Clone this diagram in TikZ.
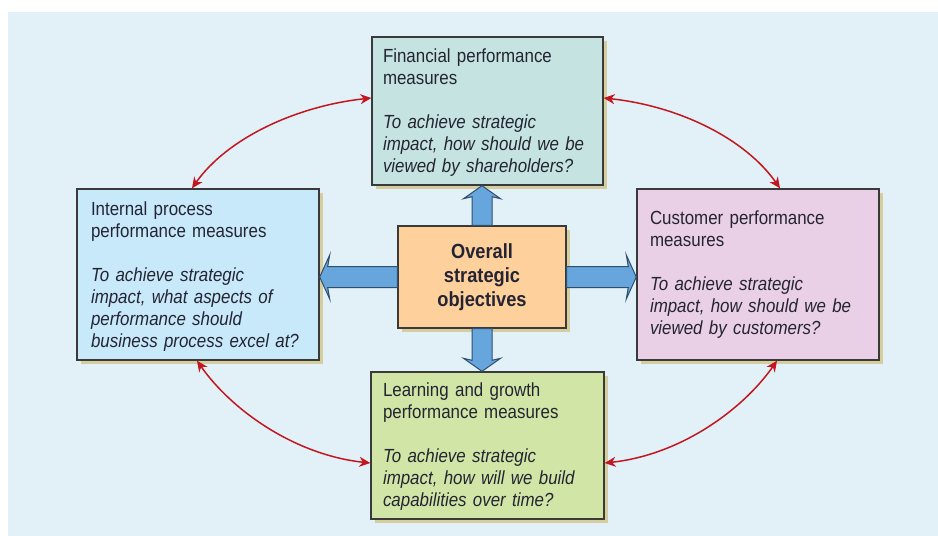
\documentclass[tikz,border=0pt]{standalone}
\usepackage{fontspec}
\setmainfont{Liberation Sans}[FakeStretch=0.89]
\usetikzlibrary{arrows.meta,shadows,calc}
\definecolor{bgblue}{HTML}{E2F0F7}
\definecolor{finfill}{HTML}{C5E4E1}
\definecolor{intfill}{HTML}{C8E9FA}
\definecolor{cusfill}{HTML}{E9D0E6}
\definecolor{leafill}{HTML}{D1E6A6}
\definecolor{ctrfill}{HTML}{FDD09C}
\definecolor{shadowtan}{HTML}{D5CD9E}
\definecolor{boxline}{HTML}{3A3A3A}
\definecolor{arrfill}{HTML}{67A6DD}
\definecolor{arrline}{HTML}{2F4F6F}
\definecolor{redline}{HTML}{C3161F}
\definecolor{txt}{HTML}{242432}
\begin{document}
\begin{tikzpicture}[x=1pt,y=-1pt,
  boxbase/.style={draw=boxline, line width=1.4pt, text=txt,
    drop shadow={shadow xshift=4pt, shadow yshift=-4pt, fill=shadowtan, opacity=1}},
  textbox/.style={boxbase, align=left, inner ysep=0pt,
    font=\fontsize{19pt}{22pt}\selectfont},
  centerbox/.style={boxbase, align=center, inner sep=0pt,
    font=\bfseries\fontsize{20.5pt}{24pt}\selectfont},
  blockarr/.style={fill=arrfill, draw=arrline, line width=1pt, line join=miter},
  redarr/.style={draw=redline, line width=1.5pt,
    {Stealth[length=11pt,width=10pt]}-{Stealth[length=11pt,width=10pt]}}
]
\useasboundingbox (0,0) rectangle (938,536);
\fill[bgblue] (8,12) rectangle (938,536);

% boxes
\node[textbox, fill=finfill, text width=209pt, inner xsep=11pt, minimum height=148pt] (fin) at (487.5,111)
  {\rule{0pt}{17pt}Financial performance\\measures\\[22pt]\textit{To achieve strategic\\impact, how should we be\\viewed by shareholders?}};
\node[textbox, fill=intfill, text width=214pt, inner xsep=14pt, minimum height=171pt] (int) at (198,274.5)
  {\rule{0pt}{17pt}Internal process\\performance measures\\[22pt]\textit{To achieve strategic\\impact, what aspects of\\performance should\\business process excel at?}};
\node[textbox, fill=cusfill, text width=216pt, inner xsep=13pt, minimum height=171pt] (cus) at (758,274.5)
  {Customer performance\\measures\\[22pt]\textit{To achieve strategic\\impact, how should we be\\viewed by customers?}};
\node[textbox, fill=leafill, text width=209pt, inner xsep=12pt, minimum height=147pt] (lea) at (487.5,445.5)
  {\rule{0pt}{15pt}Learning and growth\\performance measures\\[22pt]\textit{To achieve strategic\\impact, how will we build\\capabilities over time?}};
\node[centerbox, fill=ctrfill, minimum width=168pt, minimum height=102pt] (ctr) at (482,277)
  {Overall\\strategic\\objectives};

% block arrows
\coordinate (tu) at (ctr.north |- fin.south);
\coordinate (td) at (ctr.south |- lea.north);
\coordinate (tl) at (int.east |- ctr.west);
\coordinate (tr) at (cus.west |- ctr.east);
\draw[blockarr] ($(ctr.north)+(-10,0)$) -- ($(tu)+(-10,11)$) -- ($(tu)+(-18.5,13)$) -- (tu)
  -- ($(tu)+(18.5,13)$) -- ($(tu)+(10,11)$) -- ($(ctr.north)+(10,0)$) -- cycle;
\draw[blockarr] ($(ctr.south)+(-10,0)$) -- ($(td)+(-10,-11)$) -- ($(td)+(-18.5,-13)$) -- (td)
  -- ($(td)+(18.5,-13)$) -- ($(td)+(10,-11)$) -- ($(ctr.south)+(10,0)$) -- cycle;
\draw[blockarr] ($(ctr.west)+(0,-10.5)$) -- ($(tl)+(8,-10.5)$) -- ($(tl)+(10,-22)$) -- (tl)
  -- ($(tl)+(10,22)$) -- ($(tl)+(8,10.5)$) -- ($(ctr.west)+(0,10.5)$) -- cycle;
\draw[blockarr] ($(ctr.east)+(0,-10.5)$) -- ($(tr)+(-8,-10.5)$) -- ($(tr)+(-10,-22)$) -- (tr)
  -- ($(tr)+(-10,22)$) -- ($(tr)+(-8,10.5)$) -- ($(ctr.east)+(0,10.5)$) -- cycle;

% red curved arrows
\draw[redarr] ([xshift=-6pt]int.north) .. controls +(35,-50) and +(-75,8) .. ([yshift=13pt]fin.west);
\draw[redarr] ([yshift=13pt]fin.east) .. controls +(75,8) and +(-35,-50) .. ([xshift=22pt]cus.north);
\draw[redarr] ([xshift=19pt]cus.south) .. controls +(-35,50) and +(75,-8) .. ([yshift=-17.5pt]lea.east);
\draw[redarr] ([xshift=-1pt]int.south) .. controls +(35,50) and +(-75,-8) .. ([yshift=-17.5pt]lea.west);
\end{tikzpicture}
\end{document}
